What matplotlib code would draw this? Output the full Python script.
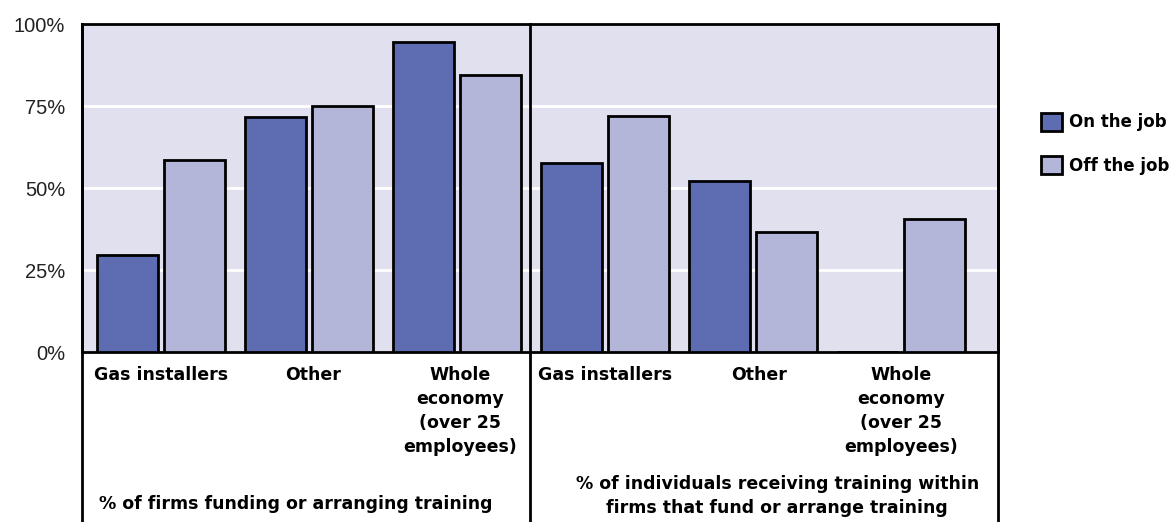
import matplotlib.pyplot as plt
import matplotlib.transforms as mtransforms
from matplotlib.patches import Patch

plt.rcParams['font.family'] = ['Liberation Sans', 'DejaVu Sans']

# six bar groups: three for firms, three for individuals
categories = ['Gas installers', 'Other', 'Whole\neconomy\n(over 25\nemployees)',
              'Gas installers', 'Other', 'Whole\neconomy\n(over 25\nemployees)']
on_job = [29.5, 71.5, 94.5, 57.5, 52.0, 0.0]
off_job = [58.5, 75.0, 84.5, 72.0, 36.5, 40.5]
panel_titles = ['% of firms funding or arranging training',
                '% of individuals receiving training within\nfirms that fund or arrange training']
yticks = [0, 25, 50, 75, 100]

on_color = '#5e6db1'
off_color = '#b3b6d8'
bold = {'family': 'DejaVu Sans', 'weight': 'bold', 'size': 12.5}

fig = plt.figure(figsize=(11.76, 5.22), dpi=100)
ax = fig.add_axes([82 / 1176, 170 / 522, 916 / 1176, 328 / 522])
ax.set_facecolor('#e1e0ee')

x = list(range(len(categories)))
w = 0.412
off = 0.226
ax.bar([i - off for i in x], on_job, width=w, color=on_color,
       edgecolor='black', linewidth=2, zorder=3)
ax.bar([i + off for i in x], off_job, width=w, color=off_color,
       edgecolor='black', linewidth=2, zorder=3)

ax.set_xlim(-0.534, 5.655)
ax.set_ylim(0, 100)
ax.set_yticks(yticks)
ax.set_yticklabels([f'{t}%' for t in yticks], fontsize=14.5, color='#222222')
ax.tick_params(axis='y', length=0, pad=12)
ax.tick_params(axis='x', length=0)
ax.set_xticks([])
for t in yticks[1:-1]:
    ax.axhline(t, color='white', linewidth=2, zorder=1)

for s in ax.spines.values():
    s.set_linewidth(2)

# category labels under each group (short names sit a little right of centre)
nudge = [0, 0.03, 0.02, 0, 0.04, 0]
for i, name in enumerate(categories):
    ax.text(i + nudge[i], -4.3, name, ha='center', va='top', fontdict=bold,
            linespacing=1.42, clip_on=False)

# vertical lines separating and boxing the two panels
trans = mtransforms.blended_transform_factory(ax.transData, ax.transAxes)
divider = 2.493
for xv in [-0.534, divider, 5.655]:
    ax.plot([xv, xv], [-0.52, 1], transform=trans, color='black',
            linewidth=2, clip_on=False, zorder=5)

# panel captions
ax.text((-0.534 + divider) / 2 - 0.07, -0.462, panel_titles[0], transform=trans,
        ha='center', va='center', fontdict=bold, clip_on=False)
ax.text((divider + 5.655) / 2 + 0.09, -0.44, panel_titles[1], transform=trans,
        ha='center', va='center', fontdict=bold, linespacing=1.42, clip_on=False)

handles = [Patch(facecolor=on_color, edgecolor='black', linewidth=2, label='On the job'),
           Patch(facecolor=off_color, edgecolor='black', linewidth=2, label='Off the job')]
fig.legend(handles=handles, loc='upper left', bbox_to_anchor=(1034 / 1176, 1 - 106 / 522),
           frameon=False, prop=dict(bold, size=12), borderaxespad=0,
           handlelength=1.3, handleheight=1.3, handletextpad=0.4, labelspacing=1.48)

fig.savefig('out.png', dpi=100)
